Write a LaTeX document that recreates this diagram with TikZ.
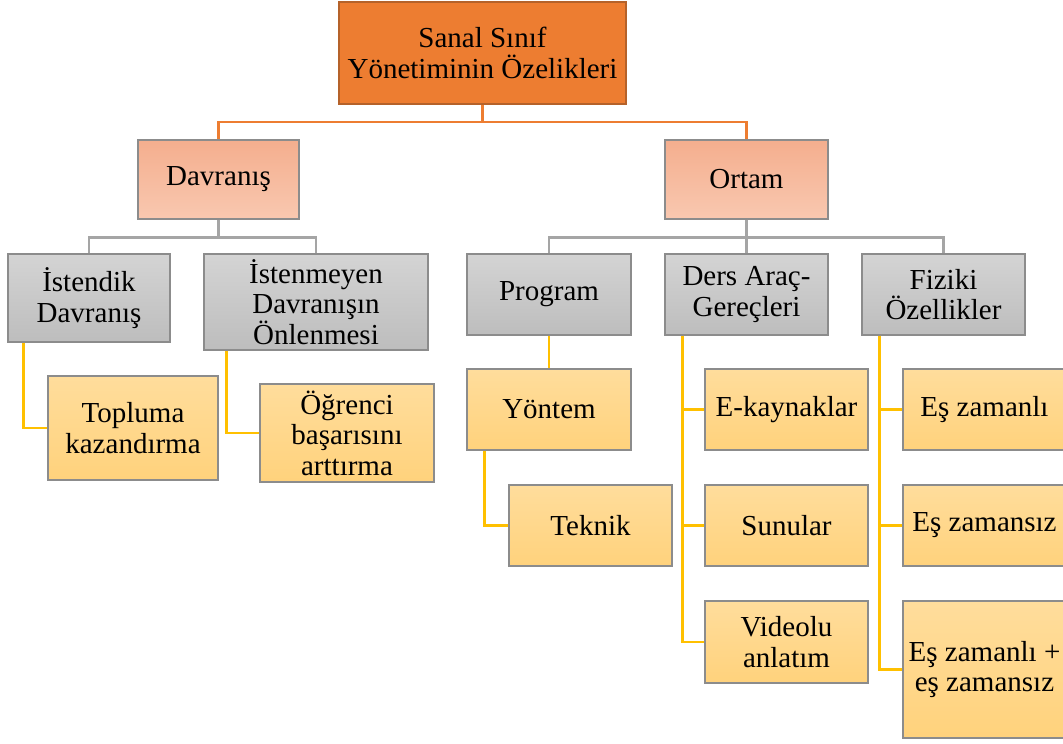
\documentclass[tikz,border=0pt]{standalone}
\usepackage{fontspec}
\setmainfont{Liberation Serif}
\definecolor{rootfill}{HTML}{ED7D31}
\definecolor{rootdraw}{HTML}{B5622A}
\definecolor{salmtop}{HTML}{F4AE8E}
\definecolor{salmbot}{HTML}{F9C8B0}
\definecolor{graytop}{HTML}{D4D4D4}
\definecolor{graybot}{HTML}{BDBDBD}
\definecolor{yeltop}{HTML}{FFDD9C}
\definecolor{yelbot}{HTML}{FFD27C}
\definecolor{boxdraw}{HTML}{8C8C8C}
\definecolor{oline}{HTML}{ED7D31}
\definecolor{gline}{HTML}{A5A5A5}
\definecolor{yline}{HTML}{FFC000}
\tikzset{
  base/.style={rectangle, align=center, inner sep=2pt, font=\fontsize{29}{30.5}\selectfont, line width=1.2pt},
  rootbox/.style={base, fill=rootfill, draw=rootdraw, line width=2pt},
  salmbox/.style={base, top color=salmtop, bottom color=salmbot, draw=boxdraw},
  graybox/.style={base, top color=graytop, bottom color=graybot, draw=boxdraw},
  yelbox/.style={base, top color=yeltop, bottom color=yelbot, draw=boxdraw},
  oconn/.style={draw=oline, line width=2.5pt},
  gconn/.style={draw=gline, line width=2.5pt},
  yconn/.style={draw=yline, line width=2.5pt},
}
\begin{document}
\begin{tikzpicture}[x=1pt,y=-1pt]
\useasboundingbox (0,0) rectangle (1063,744);
\clip (0,0) rectangle (1063,744);
% nodes
\node[rootbox, minimum width=287, minimum height=102] (root) at (482.5,53) {Sanal Sınıf\\Yönetiminin Özelikleri};
\node[salmbox, minimum width=161, minimum height=79] (dav) at (218.5,179.5) {Davranış};
\node[salmbox, minimum width=163, minimum height=79] (ortam) at (746.5,179.5) {Ortam};
\node[graybox, minimum width=162, minimum height=88] (ist) at (89,298) {İstendik\\Davranış};
\node[graybox, minimum width=224, minimum height=96] (istm) at (316,302) {İstenmeyen\\Davranışın\\Önlenmesi};
\node[graybox, minimum width=164, minimum height=81] (prog) at (549,294.5) {Program};
\node[graybox, minimum width=163, minimum height=81] (ders) at (746.5,294.5) {Ders Araç-\\Gereçleri};
\node[graybox, minimum width=163, minimum height=81] (fiz) at (943.5,294.5) {Fiziki\\Özellikler};
\node[yelbox, minimum width=170, minimum height=104] (top) at (133,428) {Topluma\\kazandırma};
\node[yelbox, minimum width=174, minimum height=98] (ogr) at (347,433) {Öğrenci\\başarısını\\arttırma};
\node[yelbox, minimum width=164, minimum height=81] (yon) at (549,409.5) {Yöntem};
\node[yelbox, minimum width=163, minimum height=81] (tek) at (590.5,525.5) {Teknik};
\node[yelbox, minimum width=163, minimum height=81] (ekay) at (786.5,409.5) {E-kaynaklar};
\node[yelbox, minimum width=163, minimum height=81] (sun) at (786.5,525.5) {Sunular};
\node[yelbox, minimum width=163, minimum height=82] (vid) at (786.5,642) {Videolu\\anlatım};
\node[yelbox, minimum width=163, minimum height=81] (es1) at (984.5,409.5) {Eş zamanlı};
\node[yelbox, minimum width=163, minimum height=81] (es2) at (984.5,525.5) {Eş zamansız};
\node[yelbox, minimum width=163, minimum height=137] (es3) at (984.5,669.5) {Eş zamanlı +\\eş zamansız};
% orange connectors
\draw[oconn] (root.south) -- ++(0,17) -| (dav.north);
\draw[oconn] (root.south) -- ++(0,17) -| (ortam.north);
% gray connectors
\draw[gconn] (dav.south) -- ++(0,18) -| (ist.north);
\draw[gconn] (dav.south) -- ++(0,18) -| (istm.north);
\draw[gconn] (ortam.south) -- ++(0,18) -| (prog.north);
\draw[gconn] (ortam.south) -- ++(0,18) -| (ders.north);
\draw[gconn] (ortam.south) -- ++(0,18) -| (fiz.north);
% yellow connectors
\draw[yconn] ([xshift=16pt]ist.south west) |- (top.west);
\draw[yconn] ([xshift=23pt]istm.south west) |- (ogr.west);
\draw[yconn] (prog.south) -- (yon.north);
\draw[yconn] ([xshift=18pt]yon.south west) |- (tek.west);
\draw[yconn] ([xshift=18pt]ders.south west) |- (ekay.west);
\draw[yconn] ([xshift=18pt]ders.south west) |- (sun.west);
\draw[yconn] ([xshift=18pt]ders.south west) |- (vid.west);
\draw[yconn] ([xshift=18pt]fiz.south west) |- (es1.west);
\draw[yconn] ([xshift=18pt]fiz.south west) |- (es2.west);
\draw[yconn] ([xshift=18pt]fiz.south west) |- (es3.west);
\end{tikzpicture}
\end{document}
